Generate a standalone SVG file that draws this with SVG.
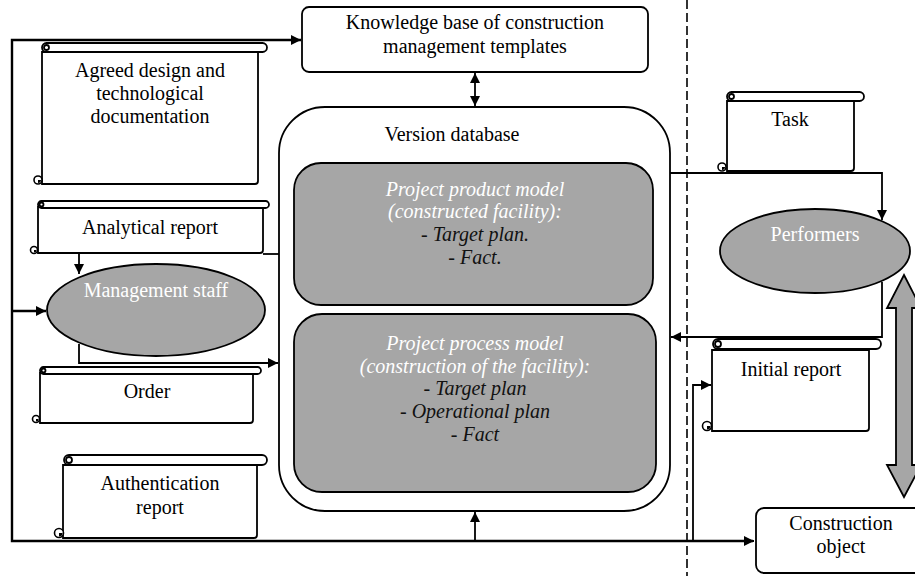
<svg xmlns="http://www.w3.org/2000/svg" width="915" height="576" viewBox="0 0 915 576" font-family="'Liberation Serif', 'DejaVu Serif', serif">
  <style>
    .t { font-family: 'Liberation Serif', 'DejaVu Serif', serif; font-size: 20px; text-anchor: middle; fill: #000; }
    .w { fill: #ffffff; }
    .it { font-style: italic; }
    .dk { fill: #111; }
    .box { fill: #fff; stroke: #000; stroke-width: 1.8; }
    .gray { fill: #a6a6a6; stroke: #000; stroke-width: 1.8; }
    .sc { fill: #fff; stroke: #000; stroke-width: 1.8; }
    .scl { fill: none; stroke: #000; stroke-width: 1.8; }
    .curl { fill: #fff; stroke: #000; stroke-width: 1.6; }
    .ln { fill: none; stroke: #000; stroke-width: 1.8; }
    .thick { fill: none; stroke: #000; stroke-width: 2.4; }
    .dash { fill: none; stroke: #000; stroke-width: 1.6; stroke-dasharray: 9 4; }
  </style>
  <defs>
    <marker id="ah" viewBox="0 0 10 10" refX="10" refY="5" markerWidth="10" markerHeight="10" markerUnits="userSpaceOnUse" orient="auto-start-reverse">
      <path d="M0,0 L10,5 L0,10 Z" fill="#000"/>
    </marker>
  </defs>

  <!-- boundary between management side and site side -->
  <line class="dash" x1="687" y1="0" x2="687" y2="576"/>

  <!-- knowledge base -->
  <g id="knowledge-base">
    <rect class="box" x="302" y="7" width="346" height="65" rx="7"/>
    <text class="t" x="475" y="29">Knowledge base of construction</text>
    <text class="t" x="475" y="53">management templates</text>
  </g>

  <!-- version database with its two models -->
  <g id="version-database">
    <rect class="box" x="279" y="107" width="391" height="404" rx="46"/>
    <text class="t" x="452" y="141">Version database</text>
  </g>
  <g id="product-model">
    <rect class="gray" x="294" y="163" width="359" height="142" rx="27"/>
    <text class="t w it" x="475" y="196">Project product model</text>
    <text class="t w it" x="475" y="218">(constructed facility):</text>
    <text class="t dk it" x="475" y="241">- Target plan.</text>
    <text class="t dk it" x="475" y="264">- Fact.</text>
  </g>
  <g id="process-model">
    <rect class="gray" x="294" y="314" width="362" height="178" rx="28"/>
    <text class="t w it" x="475" y="350">Project process model</text>
    <text class="t w it" x="475" y="373">(construction of the facility):</text>
    <text class="t dk it" x="475" y="395">- Target plan</text>
    <text class="t dk it" x="475" y="418">- Operational plan</text>
    <text class="t dk it" x="475" y="441">- Fact</text>
  </g>

  <!-- documents (scrolls) -->
  <g id="agreed-documentation">
    <path class="sc" d="M42,52 V184 H255 Q258,184 258,181 V52 Z"/>
    <rect class="sc" x="42" y="43" width="225" height="9" rx="4.5"/>
    <circle class="scl" cx="46.5" cy="47.5" r="2.5"/>
    <circle class="curl" cx="38" cy="180" r="4"/>
    <path d="M38,180 h3 a3,3 0 0 1 -3,3 z" fill="#000"/>
    <text class="t" x="150" y="77">Agreed design and</text>
    <text class="t" x="150" y="100">technological</text>
    <text class="t" x="150" y="123">documentation</text>
  </g>

  <g id="analytical-report">
    <path class="sc" d="M38,207 V253 H260 Q263,253 263,250 V207 Z"/>
    <rect class="sc" x="38" y="201" width="231" height="7" rx="3.5"/>
    <circle class="scl" cx="41.5" cy="204.5" r="2"/>
    <circle class="curl" cx="34" cy="250" r="3.5"/>
    <path d="M34,250 h2.5 a2.5,2.5 0 0 1 -2.5,2.5 z" fill="#000"/>
    <text class="t" x="150" y="234">Analytical report</text>
  </g>

  <g id="management-staff">
    <ellipse class="gray" cx="156" cy="310" rx="109" ry="46"/>
    <text class="t w" x="156" y="297">Management staff</text>
  </g>

  <g id="order">
    <path class="sc" d="M40,373 V423 H250 Q253,423 253,420 V373 Z"/>
    <rect class="sc" x="40" y="367" width="221" height="7" rx="3.5"/>
    <circle class="scl" cx="43.5" cy="370.5" r="2"/>
    <circle class="curl" cx="36" cy="419" r="3.5"/>
    <path d="M36,419 h2.5 a2.5,2.5 0 0 1 -2.5,2.5 z" fill="#000"/>
    <text class="t" x="147" y="398">Order</text>
  </g>

  <g id="authentication-report">
    <path class="sc" d="M63,465 V538 H254 Q257,538 257,535 V465 Z"/>
    <rect class="sc" x="64" y="455" width="203" height="10" rx="5"/>
    <circle class="scl" cx="69" cy="460" r="3"/>
    <circle class="curl" cx="59" cy="533" r="4.5"/>
    <path d="M59,533 h3.5 a3.5,3.5 0 0 1 -3.5,3.5 z" fill="#000"/>
    <text class="t" x="160" y="490">Authentication</text>
    <text class="t" x="160" y="514">report</text>
  </g>

  <g id="task">
    <path class="sc" d="M727,101 V171 H851 Q854,171 854,168 V101 Z"/>
    <rect class="sc" x="727" y="92" width="137" height="9" rx="4.5"/>
    <circle class="scl" cx="731.5" cy="96.5" r="2.5"/>
    <circle class="curl" cx="722" cy="167" r="4"/>
    <path d="M722,167 h3 a3,3 0 0 1 -3,3 z" fill="#000"/>
    <text class="t" x="790" y="126">Task</text>
  </g>

  <g id="performers">
    <ellipse class="gray" cx="815" cy="251" rx="95" ry="42"/>
    <text class="t w" x="815" y="241">Performers</text>
  </g>

  <g id="initial-report">
    <path class="sc" d="M712,350 V431 H866 Q869,431 869,428 V350 Z"/>
    <rect class="sc" x="713" y="339" width="168" height="10" rx="5"/>
    <circle class="scl" cx="718" cy="344" r="3"/>
    <circle class="curl" cx="707" cy="426" r="4.5"/>
    <path d="M707,426 h3.5 a3.5,3.5 0 0 1 -3.5,3.5 z" fill="#000"/>
    <text class="t" x="791" y="376">Initial report</text>
  </g>

  <g id="construction-object">
    <rect class="box" x="756" y="508" width="172" height="65" rx="8"/>
    <text class="t" x="841" y="530">Construction</text>
    <text class="t" x="841" y="553">object</text>
  </g>

  <!-- two-way feedback between performers and the construction object -->
  <g id="feedback-arrow">
    <path d="M904,275 L921,308 L912,308 L912,465 L921,465 L904,497 L887,465 L896,465 L896,308 L887,308 Z" fill="#a6a6a6" stroke="#000" stroke-width="1.8" stroke-linejoin="miter"/>
  </g>

  <!-- connectors -->
  <g id="connectors">
    <!-- outer feed loop: bottom rail up the left side to the knowledge base -->
    <polyline class="thick" points="753,541 12,541 12,40 301,40" marker-end="url(#ah)"/>
    <line class="ln" x1="753" y1="541" x2="754" y2="541" marker-end="url(#ah)"/>
    <!-- knowledge base <-> version database -->
    <line class="ln" x1="475" y1="73" x2="475" y2="106" marker-start="url(#ah)" marker-end="url(#ah)"/>
    <!-- bottom rail up into the version database -->
    <line class="ln" x1="475" y1="541" x2="475" y2="512" marker-end="url(#ah)"/>
    <!-- analytical report to management staff and database -->
    <line class="ln" x1="263" y1="254" x2="279" y2="254"/>
    <line class="ln" x1="79" y1="253" x2="79" y2="274" marker-end="url(#ah)"/>
    <!-- left rail into management staff -->
    <line class="thick" x1="12" y1="311" x2="46" y2="311" marker-end="url(#ah)"/>
    <!-- management staff to the database -->
    <polyline class="ln" points="79,344 79,363 278,363" marker-end="url(#ah)"/>
    <!-- database to performers (via task) -->
    <polyline class="ln" points="670,173 882,173 882,220" marker-end="url(#ah)"/>
    <!-- performers back to the database -->
    <polyline class="ln" points="882,282 882,337 671,337" marker-end="url(#ah)"/>
    <!-- bottom rail to the initial report -->
    <polyline class="ln" points="693,541 693,385 711,385" marker-end="url(#ah)"/>
  </g>
</svg>
